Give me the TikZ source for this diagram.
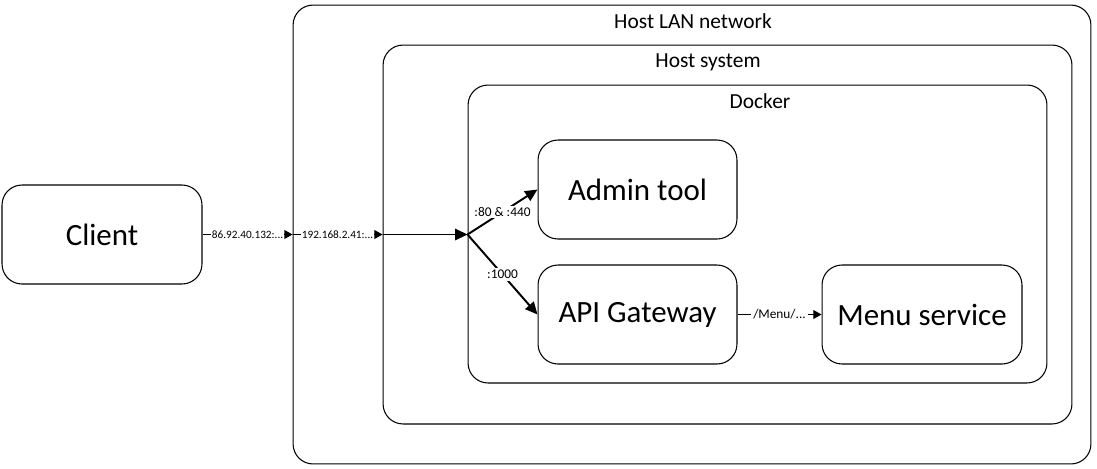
\documentclass[tikz,border=0pt]{standalone}
\usepackage{fontspec}
\setmainfont{Carlito}
\usetikzlibrary{arrows.meta}

\tikzset{
    area/.style={draw, rounded corners=0.4cm, line width=0.6pt, inner sep=0pt},
    unit/.style={area, minimum width=4cm, minimum height=1.98cm, font=\fontsize{17.6}{20}\selectfont},
    title/.style={anchor=north, inner sep=0pt, font=\fontsize{12.2}{14}\selectfont},
    port/.style={midway, fill=white, inner sep=1pt, font=\fontsize{7.6}{9}\selectfont},
    addr/.style={midway, fill=white, inner sep=0.5pt, font=\fontsize{6.4}{8}\selectfont},
    link/.style={line width=0.6pt, -{Triangle[length=4.6pt, width=5pt]}},
    route/.style={line width=1.1pt, -{Triangle[length=7pt, width=6.4pt]}},
}

\begin{document}
\begin{tikzpicture}[x=0.02cm, y=-0.02cm]
    \useasboundingbox (0,0) rectangle (1097,468);

    % nested hosts
    \node[area, minimum width=15.96cm, minimum height=9.18cm] (lan) at (692,234.5) {};
    \node[area, minimum width=13.78cm, minimum height=7.58cm] (host) at (727.5,234.5) {};
    \node[area, minimum width=11.58cm, minimum height=5.96cm] (docker) at (757.5,234) {};
    \node[title] at (693,13) {Host LAN network};
    \node[title] at (708,53) {Host system};
    \node[title] at (760,93) {Docker};

    % services
    \node[unit] (client) at (102,234.5) {Client};
    \node[unit, minimum width=3.98cm] (admin) at (637.5,189.5) {Admin tool};
    \node[unit, minimum width=3.98cm] (api) at (637.5,314.5) {API Gateway};
    \node[unit] (menu) at (922,314.5) {Menu service};

    % traffic
    \coordinate (split) at (client.east -| docker.west);
    \draw[link] (client.east) -- (client.east -| lan.west) node[addr] {86.92.40.132:...};
    \draw[link] (client.east -| lan.west) -- (client.east -| host.west) node[addr] {192.168.2.41:...};
    \draw[route] (client.east -| host.west) -- (split);
    \draw[route] (split) -- (admin.west) node[port] {:80 \& :440};
    \draw[route] (split) -- (api.west) node[port] {:1000};
    \draw[link] (api.east) -- (menu.west) node[port] {/Menu/...};
\end{tikzpicture}
\end{document}
